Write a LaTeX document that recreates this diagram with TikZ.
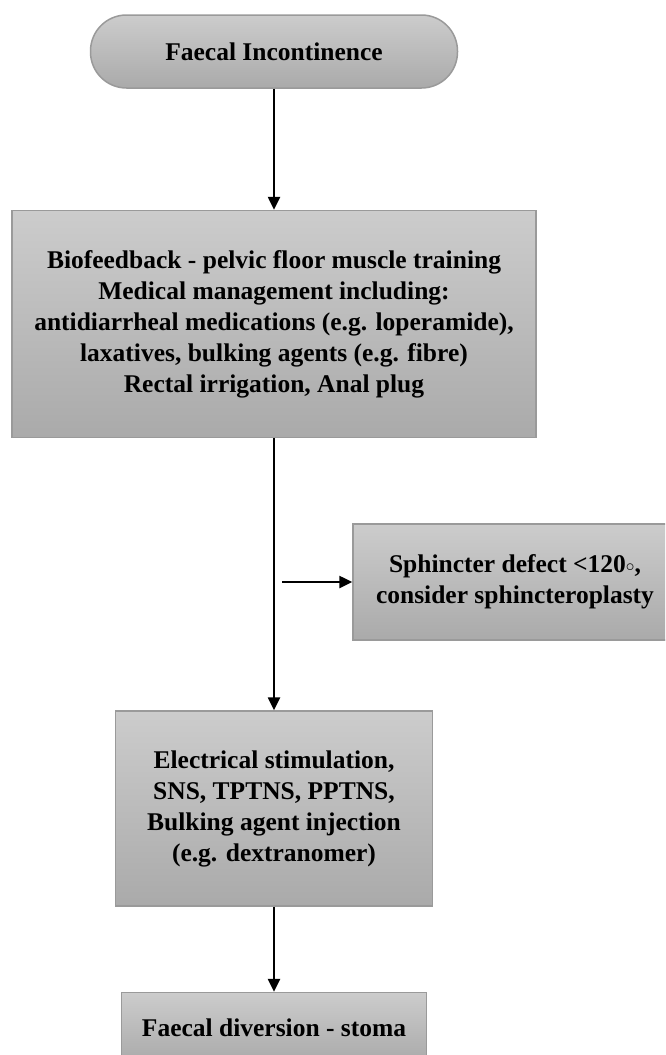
\documentclass[tikz,border=0pt]{standalone}
\usepackage{fontspec}
\setmainfont{Liberation Serif}
\usepackage{tikz}
\usetikzlibrary{arrows.meta,calc,positioning}
\definecolor{boxtop}{HTML}{CCCCCC}
\definecolor{boxbottom}{HTML}{AAAAAA}
\definecolor{boxedge}{HTML}{9A9A9A}

\begin{document}
\begin{tikzpicture}[
    box/.style={draw=boxedge, line width=1.5pt, top color=boxtop,
                bottom color=boxbottom, align=center,
                font=\fontsize{25.5}{31}\selectfont\bfseries},
    pill/.style={box, rounded corners=36pt},
    flow/.style={-{Triangle[length=13pt,width=12pt]}, line width=2.5pt},
]
\useasboundingbox (0,0) rectangle (665pt,-1055pt);
\clip (0,0) rectangle (665pt,-1055pt);

% Main column
\node[pill, minimum width=367pt, minimum height=73pt] (fi) at (274pt,-51.5pt)
  {Faecal Incontinence};
\node[box, minimum width=524pt, minimum height=227pt, below=121pt of fi] (bio)
  {Biofeedback - pelvic floor muscle training\\
   Medical management including:\\
   antidiarrheal medications (e.g. loperamide),\\
   laxatives, bulking agents (e.g. fibre)\\
   Rectal irrigation, Anal plug};
\node[box, minimum width=317pt, minimum height=195pt, below=272pt of bio] (elec)
  {Electrical stimulation,\\
   SNS, TPTNS, PPTNS,\\
   Bulking agent injection\\
   (e.g. dextranomer)};
\node[box, minimum width=305pt, minimum height=70pt, below=85pt of elec] (stoma)
  {Faecal diversion - stoma};

% Side branch
\node[box, minimum width=324pt, minimum height=116pt] (sph) at (515pt,-582pt)
  {Sphincter defect <120{\raisebox{1pt}{$\scriptstyle\circ$}},\\
   consider sphincteroplasty};
\coordinate (br) at ([xshift=8pt]bio.south |- sph.west);

% Arrows
\draw[flow] (fi) -- (bio);
\draw[flow] (bio) -- (elec);
\draw[flow] (elec) -- (stoma);
\draw[flow] (br) -- (sph.west);
\end{tikzpicture}
\end{document}
